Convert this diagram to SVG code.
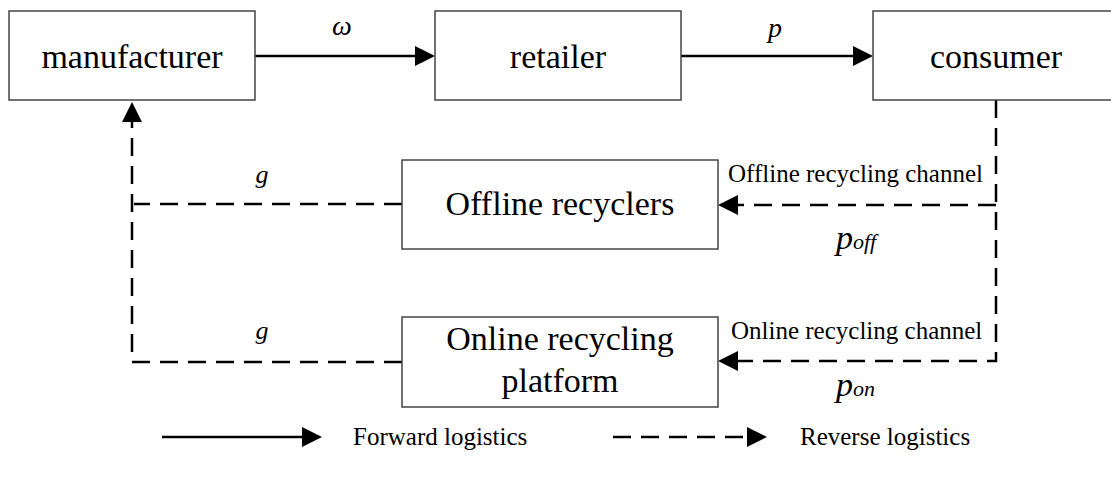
<svg xmlns="http://www.w3.org/2000/svg" width="1111" height="477" viewBox="0 0 1111 477">
  <style>
    .box { fill: #ffffff; stroke: #444444; stroke-width: 1.5; }
    text { font-family: 'Liberation Serif', 'DejaVu Serif', serif; fill: #000000; }
    .main { font-size: 34px; text-anchor: middle; }
    .lbl { font-size: 25px; }
    .it { font-style: italic; }
    .solid { fill: none; stroke: #000000; stroke-width: 2.5; }
    .dash { fill: none; stroke: #000000; stroke-width: 2.5; stroke-dasharray: 18 10; }
  </style>
  <defs>
    <marker id="arrow" markerUnits="userSpaceOnUse" markerWidth="20" markerHeight="20" refX="0" refY="10" orient="auto" viewBox="0 0 20 20">
      <path d="M0,0 L20,10 L0,20 Z" fill="#000000"/>
    </marker>
  </defs>

  <rect width="1111" height="477" fill="#ffffff"/>

  <g id="connectors">
    <path class="solid" d="M255,56 H415" marker-end="url(#arrow)"/>
    <path class="solid" d="M681,56 H853" marker-end="url(#arrow)"/>
    <path class="dash" d="M996,100 V361 H738" marker-end="url(#arrow)"/>
    <path class="dash" d="M996,205 H738" marker-end="url(#arrow)"/>
    <path class="dash" d="M402,204 H134"/>
    <path class="dash" d="M402,362 H132 V122" marker-end="url(#arrow)"/>
    <text class="it" x="342" y="35" font-size="28" text-anchor="middle">ω</text>
    <text class="it" x="775" y="37" font-size="28" text-anchor="middle">p</text>
    <text class="it" x="262" y="183" font-size="26" text-anchor="middle">g</text>
    <text class="it" x="262" y="339" font-size="26" text-anchor="middle">g</text>
    <text class="lbl" x="728" y="182">Offline recycling channel</text>
    <text class="lbl" x="731" y="339">Online recycling channel</text>
    <text class="it" x="836" y="249" font-size="34">p<tspan font-size="22">off</tspan></text>
    <text class="it" x="836" y="396" font-size="34">p<tspan font-size="22">on</tspan></text>
  </g>

  <g id="manufacturer">
    <rect class="box" x="9" y="11" width="246" height="89"/>
    <text class="main" x="132" y="68">manufacturer</text>
  </g>
  <g id="retailer">
    <rect class="box" x="435" y="11" width="246" height="89"/>
    <text class="main" x="558" y="68">retailer</text>
  </g>
  <g id="consumer">
    <rect class="box" x="873" y="11" width="250" height="89"/>
    <text class="main" x="996" y="68">consumer</text>
  </g>
  <g id="offline-recyclers">
    <rect class="box" x="402" y="160" width="316" height="89"/>
    <text class="main" x="560" y="215">Offline recyclers</text>
  </g>
  <g id="online-platform">
    <rect class="box" x="402" y="317" width="316" height="90"/>
    <text class="main" x="560" y="350">Online recycling</text>
    <text class="main" x="560" y="392">platform</text>
  </g>

  <g id="legend">
    <path class="solid" d="M162,437 H302" marker-end="url(#arrow)"/>
    <text class="lbl" x="353" y="445">Forward logistics</text>
    <path class="dash" d="M613,437 H747" marker-end="url(#arrow)"/>
    <text class="lbl" x="800" y="445">Reverse logistics</text>
  </g>
</svg>
